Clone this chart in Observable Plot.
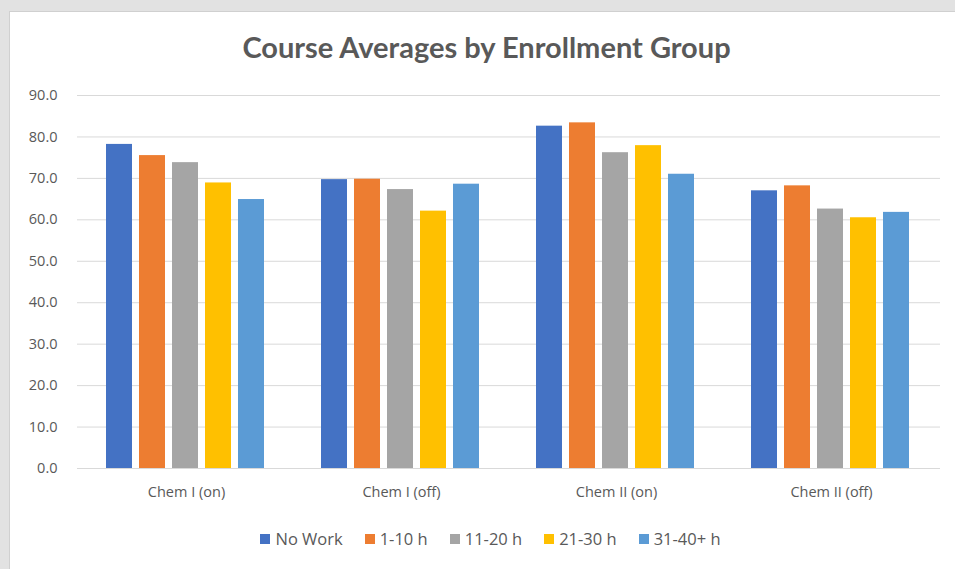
<!DOCTYPE html>
<html>
<head>
<meta charset="utf-8">
<script src="https://cdn.jsdelivr.net/npm/d3@7"></script>
<script src="https://cdn.jsdelivr.net/npm/@observablehq/plot@0.6"></script>
<style>
  html, body { margin: 0; padding: 0; width: 955px; height: 569px; overflow: hidden; background: #e2e2e2; }
  #panel { position: absolute; left: 9px; top: 11px; width: 960px; height: 570px; background: #fff; border: 1px solid #d0d0d0; }
  #title { position: absolute; left: 0; width: 973px; top: 29px; text-align: center; font-family: Lato, sans-serif; font-weight: 700; font-size: 29px; color: #595959; }
  .layer { position: absolute; left: 0; top: 0; }
  #legend { position: absolute; top: 527px; left: 0; width: 981px; display: flex; justify-content: center; gap: 22px; font-family: "Open Sans", sans-serif; font-size: 16.5px; color: #595959; }
  .item { display: flex; align-items: center; gap: 5px; }
  .sw { width: 10px; height: 10px; display: inline-block; }
</style>
</head>
<body>
<div id="panel"></div>
<div id="title">Course Averages by Enrollment Group</div>
<div id="grid" class="layer"></div>
<div id="bars" class="layer"></div>
<div id="legend"></div>
<script>
const categories = ["Chem I (on)", "Chem I (off)", "Chem II (on)", "Chem II (off)"];
const series = ["No Work", "1-10 h", "11-20 h", "21-30 h", "31-40+ h"];
const noWork   = [78.2, 69.7, 82.6, 67.0];
const h1to10   = [75.5, 69.8, 83.4, 68.2];
const h11to20  = [73.8, 67.3, 76.2, 62.6];
const h21to30  = [68.9, 62.1, 77.9, 60.5];
const h31to40  = [64.9, 68.6, 71.0, 61.8];
const yTicks = [0, 10, 20, 30, 40, 50, 60, 70, 80, 90];
const colors = ["#4472C4", "#ED7D31", "#A5A5A5", "#FFC000", "#5B9BD5"];

const seriesValues = [noWork, h1to10, h11to20, h21to30, h31to40];
const data = [];
categories.forEach((c, i) => series.forEach((s, j) => data.push({category: c, series: s, value: seriesValues[j][i]})));

const common = {
  width: 955, height: 569,
  marginLeft: 77, marginRight: 15, marginTop: 95, marginBottom: 101,
  style: {fontFamily: "'Open Sans', sans-serif", fontSize: "14.5px", color: "#595959", background: "transparent", overflow: "visible"}
};
const pIn = 0.25, pOut = 0.125;

const grid = Plot.plot({
  ...common,
  x: {domain: categories, paddingInner: pIn, paddingOuter: pOut, label: null, tickSize: 0, tickPadding: 18},
  y: {domain: [0, 90], ticks: yTicks, tickFormat: d3.format(".1f"), label: null, tickSize: 0, tickPadding: 20},
  marks: [
    Plot.ruleY(yTicks, {stroke: "#d9d9d9", strokeWidth: 1})
  ]
});
document.getElementById("grid").appendChild(grid);

const bars = Plot.plot({
  ...common,
  fx: {domain: categories, paddingInner: pIn, paddingOuter: pOut, axis: null, label: null},
  x: {domain: series, paddingInner: 0.2, paddingOuter: 0, axis: null},
  y: {domain: [0, 90], axis: null},
  color: {domain: series, range: colors},
  marks: [
    Plot.barY(data, {fx: "category", x: "series", y: "value", fill: "series"})
  ]
});
document.getElementById("bars").appendChild(bars);

const legend = document.getElementById("legend");
series.forEach((s, i) => {
  const it = document.createElement("span");
  it.className = "item";
  it.innerHTML = `<span class="sw" style="background:${colors[i]}"></span><span>${s}</span>`;
  legend.appendChild(it);
});
</script>
</body>
</html>
